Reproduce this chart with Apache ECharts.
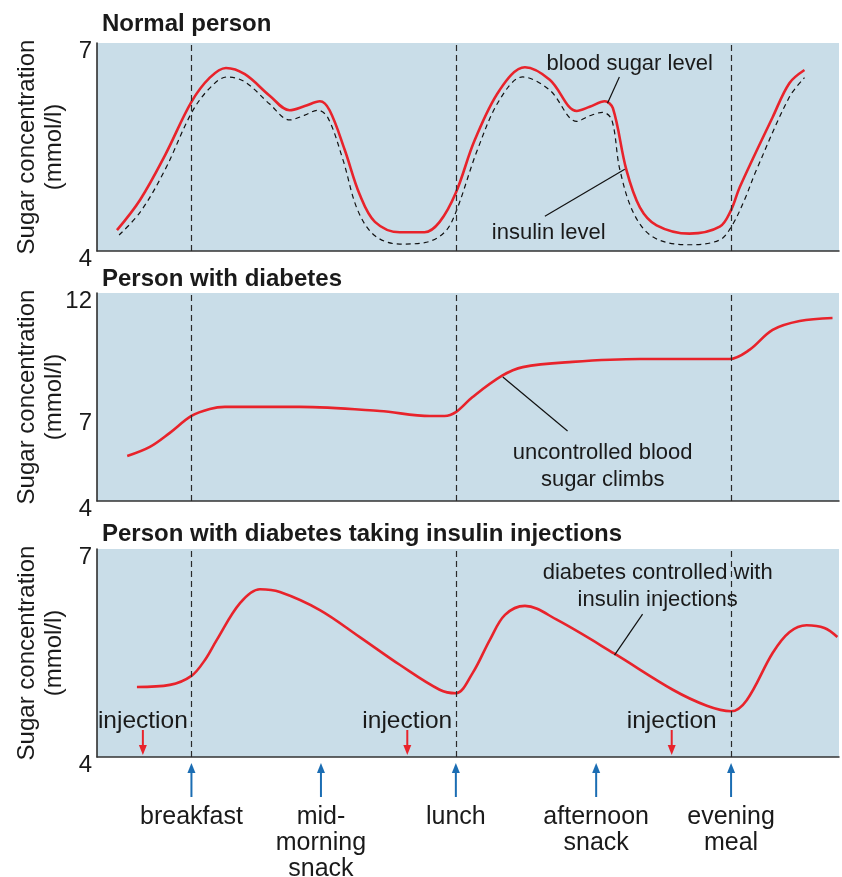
<!DOCTYPE html>
<html>
<head>
<meta charset="utf-8">
<script src="https://cdn.jsdelivr.net/npm/echarts@6/dist/echarts.min.js"></script>
<style>
  html, body { margin: 0; padding: 0; background: #ffffff; }
  #chart { width: 842px; height: 877px; }
</style>
</head>
<body>
<div id="chart"></div>
<script>
// Time of day (hours) on every x axis
const mealTimes = [8, 10.4, 12.9, 15.5, 18];
const mealLabels = ['breakfast', 'mid-\nmorning\nsnack', 'lunch', 'afternoon\nsnack', 'evening\nmeal'];
const mainMealTimes = [8, 12.9, 18];
const injectionTimes = [7.1, 12.0, 16.9];

// Panel titles and y tick labels shown
const panelTitles = ['Normal person', 'Person with diabetes', 'Person with diabetes taking insulin injections'];
const panelTicks = [[4, 7], [4, 7, 12], [4, 7]];
const panelRanges = [[4, 7], [4, 12], [4, 7]];

// Normal person: blood sugar (mmol/l) over the day
const normalSugar = [
  [6.62, 4.30], [7.05, 4.74], [7.51, 5.38], [8.0, 6.15], [8.34, 6.50], [8.64, 6.64],
  [8.99, 6.55], [9.45, 6.24], [9.82, 6.03], [10.1, 6.09], [10.38, 6.16], [10.56, 6.03],
  [10.84, 5.46], [11.12, 4.81], [11.4, 4.42], [11.86, 4.27], [12.32, 4.27], [12.6, 4.42],
  [12.9, 4.84], [13.25, 5.60], [13.71, 6.32], [14.18, 6.65], [14.64, 6.47], [15.14, 6.02],
  [15.38, 6.08], [15.66, 6.16], [15.81, 6.06], [16.06, 5.17], [16.31, 4.63], [16.62, 4.37],
  [17.23, 4.25], [17.79, 4.35], [18.0, 4.59], [18.16, 4.92], [18.77, 5.93], [19.08, 6.42],
  [19.36, 6.61]
];

// Normal person: insulin level, same scale
const normalInsulin = [
  [6.66, 4.23], [7.05, 4.56], [7.51, 5.17], [8.0, 5.99], [8.34, 6.35], [8.66, 6.51],
  [8.99, 6.44], [9.45, 6.12], [9.82, 5.89], [10.1, 5.96], [10.34, 6.03], [10.53, 5.92],
  [10.81, 5.31], [11.08, 4.59], [11.4, 4.22], [11.86, 4.10], [12.32, 4.12], [12.69, 4.27],
  [12.9, 4.56], [13.3, 5.46], [13.71, 6.18], [14.14, 6.51], [14.64, 6.32], [15.14, 5.87],
  [15.38, 5.95], [15.62, 6.0], [15.79, 5.89], [15.94, 5.17], [16.21, 4.52], [16.58, 4.19],
  [17.23, 4.09], [17.79, 4.16], [18.02, 4.37], [18.25, 4.74], [18.47, 5.17], [19.08, 6.22],
  [19.36, 6.50]
];

// Person with diabetes: uncontrolled blood sugar
const diabetesSugar = [
  [6.81, 5.73], [7.23, 6.08], [7.6, 6.62], [8.0, 7.27], [8.34, 7.54], [8.62, 7.62],
  [10.01, 7.62], [11.49, 7.46], [12.42, 7.27], [12.69, 7.27], [12.9, 7.42], [13.21, 8.0],
  [13.75, 8.81], [14.14, 9.15], [15.06, 9.35], [16.31, 9.46], [17.97, 9.46], [18.34, 9.81],
  [18.77, 10.58], [19.27, 10.92], [19.88, 11.04]
];

// Person with diabetes taking insulin injections
const treatedSugar = [
  [6.99, 5.01], [7.6, 5.04], [8.0, 5.17], [8.25, 5.40], [8.47, 5.69], [8.9, 6.22],
  [9.27, 6.42], [9.64, 6.38], [10.38, 6.12], [11.12, 5.73], [11.86, 5.33], [12.6, 4.97],
  [12.9, 4.92], [13.21, 5.21], [13.53, 5.69], [13.81, 6.05], [14.18, 6.18], [14.77, 5.98],
  [15.84, 5.49], [16.92, 4.97], [17.55, 4.74], [18.0, 4.66], [18.29, 4.82], [18.77, 5.50],
  [19.08, 5.80], [19.4, 5.90], [19.73, 5.86], [19.97, 5.73]
];

// Callouts: text anchor and leader line, in each panel's data coordinates
const callouts = [
  { grid: 0, lines: ['blood sugar level'], at: [16.12, 6.70], from: [15.93, 6.51], to: [15.71, 6.13] },
  { grid: 0, lines: ['insulin level'], at: [14.62, 4.26], from: [14.55, 4.50], to: [16.03, 5.18] },
  { grid: 1, lines: ['uncontrolled blood', 'sugar climbs'], at: [15.62, 5.85], from: [14.97, 6.69], to: [13.77, 8.77] },
  { grid: 2, lines: ['diabetes controlled with', 'insulin injections'], at: [16.64, 6.65], from: [16.36, 6.06], to: [15.84, 5.47] }
];

const FONT = '"Liberation Sans", Arial, Helvetica, sans-serif';
const INK = '#1a1a1a';
const RED = '#e8232b';
const BLUE = '#1b6db3';
const PANEL_BG = '#c9dde8';
const X_MIN = 6.25, X_MAX = 20;

const gridTops = [43, 293, 549];
const titleTops = [12, 267, 522];
const GRID_H = 208;

const chart = echarts.init(document.getElementById('chart'), null, { renderer: 'canvas' });

const grids = gridTops.map(t => ({
  left: 97, right: 3, top: t, height: GRID_H,
  show: true, backgroundColor: PANEL_BG, borderWidth: 0,
  containLabel: false, outerBoundsMode: 'none'
}));

const xAxes = gridTops.map((t, i) => ({
  type: 'value', gridIndex: i, min: X_MIN, max: X_MAX,
  axisLine: { show: true, onZero: false, lineStyle: { color: '#333', width: 1.5 } },
  axisTick: { show: false }, axisLabel: { show: false }, splitLine: { show: false }
}));

// Tick labels at the ends of each axis sit a little below their tick
const yAxes = panelRanges.map((r, i) => ({
  type: 'value', gridIndex: i, min: r[0], max: r[1], interval: 1,
  name: 'Sugar concentration\n(mmol/l)', nameLocation: 'middle', nameGap: 29, nameRotate: 90,
  nameMoveOverlap: false,
  nameTextStyle: { fontFamily: FONT, fontSize: 24, lineHeight: 27, color: INK },
  axisLine: { show: true, lineStyle: { color: '#222', width: 1.5 } },
  axisTick: { show: false }, splitLine: { show: false },
  axisLabel: {
    fontFamily: FONT, fontSize: 24, color: INK, margin: 5,
    formatter: v => {
      if (panelTicks[i].indexOf(v) < 0) return '';
      return (v === r[0] || v === r[1]) ? '{edge|' + v + '}' : '{mid|' + v + '}';
    },
    rich: {
      edge: { fontFamily: FONT, fontSize: 24, color: INK, padding: [16, 0, 0, 0] },
      mid: { fontFamily: FONT, fontSize: 24, color: INK }
    }
  }
}));

const mealMarkLine = {
  silent: true, symbol: 'none', label: { show: false },
  lineStyle: { color: '#2a2a2a', width: 1.2, type: [6, 4] },
  data: mainMealTimes.map(t => ({ xAxis: t }))
};

const redLine = (data, idx) => ({
  type: 'line', xAxisIndex: idx, yAxisIndex: idx, data: data,
  smooth: 0.35, showSymbol: false, symbol: 'none', silent: true,
  lineStyle: { color: RED, width: 2.6 }, z: 3,
  markLine: mealMarkLine
});

const series = [
  redLine(normalSugar, 0),
  {
    type: 'line', xAxisIndex: 0, yAxisIndex: 0, data: normalInsulin,
    smooth: 0.35, showSymbol: false, symbol: 'none', silent: true,
    lineStyle: { color: '#111', width: 1.2, type: [5, 4] }, z: 2
  },
  redLine(diabetesSugar, 1),
  redLine(treatedSugar, 2)
];

const titles = panelTitles.map((txt, i) => ({
  text: txt, left: 102, top: titleTops[i], padding: 0,
  textStyle: { fontFamily: FONT, fontSize: 24, fontWeight: 'bold', color: INK }
}));

chart.setOption({
  animation: false,
  title: titles,
  grid: grids,
  xAxis: xAxes,
  yAxis: yAxes,
  series: series
});

// Overlay: callouts, injection and meal arrows
const px = (g, p) => chart.convertToPixel({ gridIndex: g }, p);
const graphics = [];

callouts.forEach(c => {
  const a = px(c.grid, c.at);
  const f = px(c.grid, c.from);
  const t = px(c.grid, c.to);
  graphics.push({
    type: 'line', silent: true, z: 10,
    shape: { x1: f[0], y1: f[1], x2: t[0], y2: t[1] },
    style: { stroke: '#111', lineWidth: 1.2 }
  });
  c.lines.forEach((ln, k) => {
    graphics.push({
      type: 'text', silent: true, z: 11,
      x: a[0], y: a[1] + k * 27,
      style: { text: ln, fontFamily: FONT, fontSize: 22, fill: INK, align: 'center', verticalAlign: 'middle' }
    });
  });
});

function arrow(x, yTip, yTail, color, up) {
  const head = 10, half = 4;
  const yBase = up ? yTip + head : yTip - head;
  graphics.push({
    type: 'line', silent: true, z: 12,
    shape: { x1: x, y1: yTail, x2: x, y2: yBase },
    style: { stroke: color, lineWidth: 2 }
  });
  graphics.push({
    type: 'polygon', silent: true, z: 12,
    shape: { points: [[x, yTip], [x - half, yBase], [x + half, yBase]] },
    style: { fill: color }
  });
}

const bottom3 = gridTops[2] + GRID_H;
injectionTimes.forEach(t => {
  const x = chart.convertToPixel({ xAxisIndex: 2 }, t);
  arrow(x, bottom3 - 2, bottom3 - 27, RED, false);
  graphics.push({
    type: 'text', silent: true, z: 12, x: x, y: bottom3 - 36,
    style: { text: 'injection', fontFamily: FONT, fontSize: 24.5, fill: INK, align: 'center', verticalAlign: 'middle' }
  });
});

mealTimes.forEach((t, i) => {
  const x = chart.convertToPixel({ xAxisIndex: 2 }, t);
  arrow(x, bottom3 + 6, bottom3 + 40, BLUE, true);
  mealLabels[i].split('\n').forEach((ln, k) => {
    graphics.push({
      type: 'text', silent: true, z: 12, x: x, y: bottom3 + 60 + k * 26,
      style: { text: ln, fontFamily: FONT, fontSize: 25, fill: INK, align: 'center', verticalAlign: 'middle' }
    });
  });
});

chart.setOption({ graphic: graphics });
</script>
</body>
</html>
